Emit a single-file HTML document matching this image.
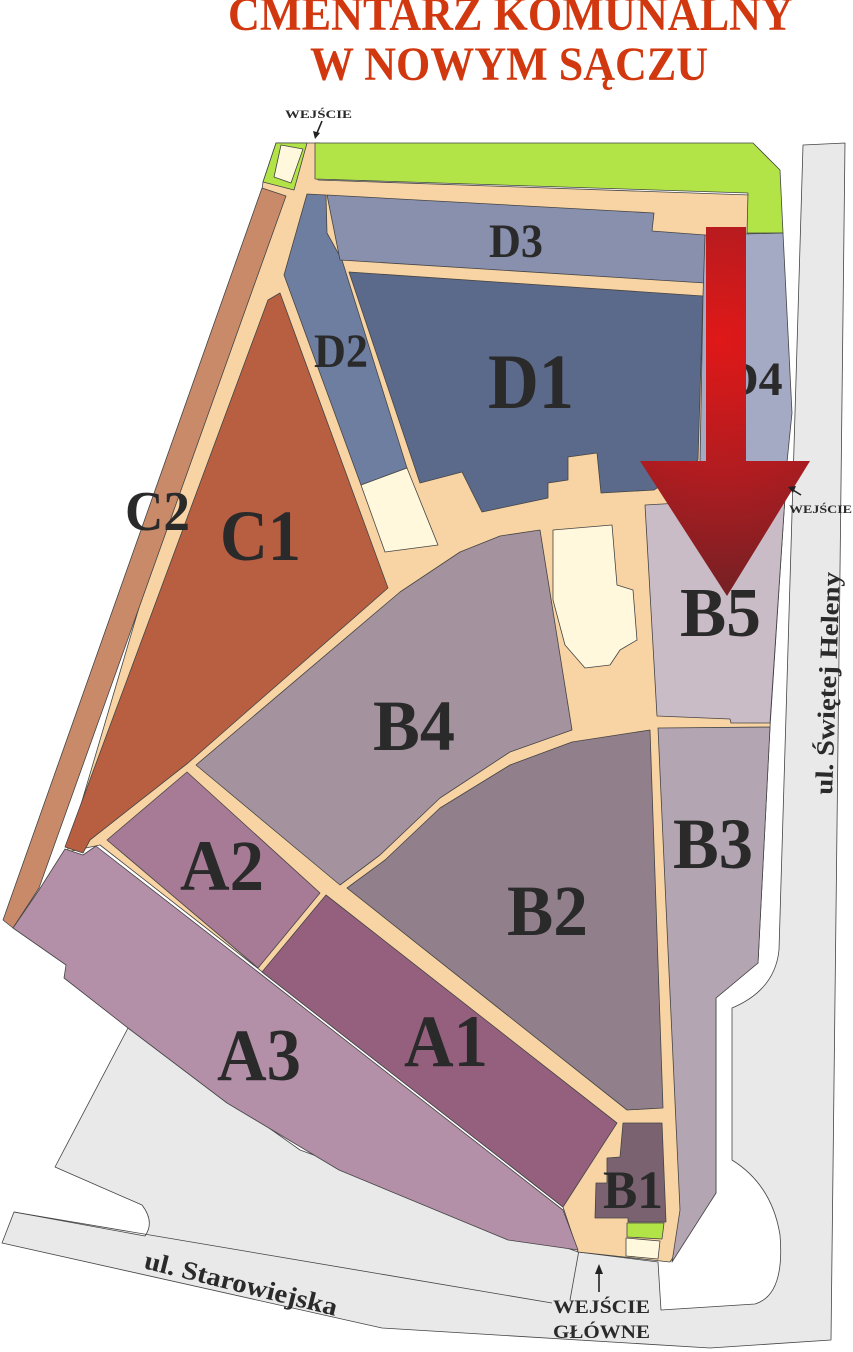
<!DOCTYPE html>
<html><head><meta charset="utf-8"><style>
html,body{margin:0;padding:0;background:#fff;}
svg{display:block;}
text{font-family:"Liberation Serif",serif;font-weight:bold;}
</style></head><body>
<svg width="853" height="1352" viewBox="0 0 853 1352" xmlns="http://www.w3.org/2000/svg">
<defs>
<radialGradient id="ag" cx="720" cy="340" r="300" gradientUnits="userSpaceOnUse">
<stop offset="0" stop-color="#e01818"/><stop offset="0.45" stop-color="#b01c20"/><stop offset="1" stop-color="#5e2226"/>
</radialGradient>
</defs>
<g stroke="#444" stroke-width="0.8" stroke-linejoin="round">
<!-- roads -->
<path fill="#e9e9e9" d="M803,145 L845,143 L831,1340 L710,1348 L382,1328 L2,1243 L14,1212 L145,1236 Q155,1222 142,1205 L55,1167 L128,1028 L300,1150 L578,1252 L658,1262 L661,1310 L755,1304 Q785,1295 780,1235 Q772,1185 732,1160 L732,1008 Q775,990 779,950 Z"/>
<polyline fill="none" points="14,1212 552,1303"/>
<polyline fill="none" points="579,1250 570,1300"/>
<!-- peach base -->
<polygon fill="#f8d4a4" points="263,182 276,143 320,143 318,180 750,195 790,410 785,497 770,727 758,963 716,998 716,1193 670,1262 578,1252 563,1207 100,845 67,852 262,190"/>
<!-- green -->
<polygon fill="#b3e447" points="315,143 753,143 780,170 783,233 747,233 748,193 315,179"/>
<polygon fill="#b3e447" points="276,143 307,143 294,190 263,182"/>
<polygon fill="#fff8dc" points="281,145 303,149 291,183 274,177"/>
<!-- C2 -->
<polygon fill="#c98a6a" points="262,188 286,196 39,888 13,928 3,920"/>
<!-- C1 -->
<polygon fill="#b85f42" points="268,300 280,293 388,588 188,763 90,840 83,853 65,847"/>
<!-- D2 D3 D1 D4 -->
<polygon fill="#6e7ea0" points="307,194 326,195 327,233 342,260 407,468 361,485 284,275"/>
<polygon fill="#fff8dc" points="361,485 407,468 438,545 385,552"/>
<polygon fill="#8890ae" points="327,195 654,213 652,231 705,235 705,283 340,260"/>
<polygon fill="#5b6a8b" points="349,272 703,296 698,460 654,490 601,493 597,453 568,457 568,480 548,483 548,498 482,512 462,472 420,483"/>
<polygon fill="#a4a9c4" points="705,235 783,233 792,413 787,462 700,462 703,296"/>
<!-- B5 B3 -->
<polygon fill="#cabcc6" points="645,505 785,497 770,723 731,723 730,719 657,716"/>
<polygon fill="#b4a5b2" points="658,728 770,727 758,963 716,998 716,1193 672,1262 680,1210 668,950"/>
<!-- chapel -->
<polygon fill="#fff8dc" points="553,530 612,525 617,585 633,590 637,640 620,650 610,665 585,668 565,645 553,600"/>
<!-- B4 -->
<polygon fill="#a4929e" points="196,765 400,592 460,552 500,536 540,530 572,730 510,752 440,798 380,855 340,885"/>
<!-- B2 -->
<polygon fill="#917f8c" points="347,888 385,860 440,808 510,765 572,742 650,730 663,1108 627,1110"/>
<!-- A2 A1 A3 -->
<polygon fill="#a77a95" points="187,772 320,893 258,968 107,840"/>
<polygon fill="#95607e" points="326,895 617,1123 563,1207 262,972"/>
<polygon fill="#b490a8" points="13,928 39,890 65,849 83,855 96,846 101,850 258,972 563,1210 578,1250 508,1240 339,1170 227,1103 128,1028 64,978 66,965"/>
<!-- B1 -->
<polygon fill="#7a6270" points="623,1123 662,1123 666,1222 628,1222 628,1218 595,1218 596,1183 607,1183 607,1158 620,1157"/>
<polygon fill="#b3e447" points="627,1223 664,1223 662,1239 627,1237"/>
<polygon fill="#fff8dc" points="626,1238 660,1241 658,1259 626,1256"/>
</g>
<!-- labels -->
<g fill="#2a2a2a">
<text x="724" y="395" font-size="48">D4</text>
<text x="488" y="408" font-size="78" textLength="86" lengthAdjust="spacingAndGlyphs">D1</text>
<text x="489" y="257" font-size="48" textLength="54" lengthAdjust="spacingAndGlyphs">D3</text>
<text x="314" y="367" font-size="48" textLength="54" lengthAdjust="spacingAndGlyphs">D2</text>
<text x="125" y="530" font-size="56" textLength="65" lengthAdjust="spacingAndGlyphs">C2</text>
<text x="220" y="560" font-size="72" textLength="81" lengthAdjust="spacingAndGlyphs">C1</text>
<text x="680" y="636" font-size="70" textLength="81" lengthAdjust="spacingAndGlyphs">B5</text>
<text x="373" y="750" font-size="72" textLength="82" lengthAdjust="spacingAndGlyphs">B4</text>
<text x="673" y="868" font-size="72" textLength="80" lengthAdjust="spacingAndGlyphs">B3</text>
<text x="507" y="935" font-size="72" textLength="81" lengthAdjust="spacingAndGlyphs">B2</text>
<text x="180" y="890" font-size="72" textLength="84" lengthAdjust="spacingAndGlyphs">A2</text>
<text x="404" y="1066" font-size="74" textLength="84" lengthAdjust="spacingAndGlyphs">A1</text>
<text x="217" y="1080" font-size="74" textLength="84" lengthAdjust="spacingAndGlyphs">A3</text>
<text x="603" y="1208" font-size="54" textLength="60" lengthAdjust="spacingAndGlyphs">B1</text>
</g>
<!-- big arrow -->
<polygon fill="url(#ag)" points="706,227 746,227 746,461 810,461 727,596 640,461 706,461"/>
<!-- title -->
<g fill="#d2380f">
<text x="228" y="30" font-size="48" textLength="565" lengthAdjust="spacingAndGlyphs">CMENTARZ KOMUNALNY</text>
<text x="310" y="80" font-size="48" textLength="398" lengthAdjust="spacingAndGlyphs">W NOWYM SĄCZU</text>
</g>
<!-- street names -->
<g fill="#2a2a2a">
<text transform="translate(832,795) rotate(-88)" font-size="25" textLength="223" lengthAdjust="spacingAndGlyphs">ul. Świętej Heleny</text>
<text transform="translate(143,1268) rotate(14)" font-size="26" textLength="198" lengthAdjust="spacingAndGlyphs">ul. Starowiejska</text>
<text x="285" y="118" font-size="12" textLength="67" lengthAdjust="spacingAndGlyphs">WEJŚCIE</text>
<text x="789" y="513" font-size="12" textLength="63" lengthAdjust="spacingAndGlyphs">WEJŚCIE</text>
<text x="553" y="1313" font-size="19" textLength="97" lengthAdjust="spacingAndGlyphs">WEJŚCIE</text>
<text x="553" y="1338" font-size="19" textLength="97" lengthAdjust="spacingAndGlyphs">GŁÓWNE</text>
</g>
<g stroke="#222" stroke-width="1.6" fill="#222">
<line x1="322" y1="121" x2="317" y2="133"/>
<polygon points="313,131 320,133 315,139" stroke="none"/>
<line x1="801" y1="495" x2="793" y2="490"/>
<polygon points="796,486 793,493 788,487" stroke="none"/>
<line x1="599" y1="1292" x2="599" y2="1272"/>
<polygon points="595,1274 603,1274 599,1264" stroke="none"/>
</g>
</svg>
</body></html>
